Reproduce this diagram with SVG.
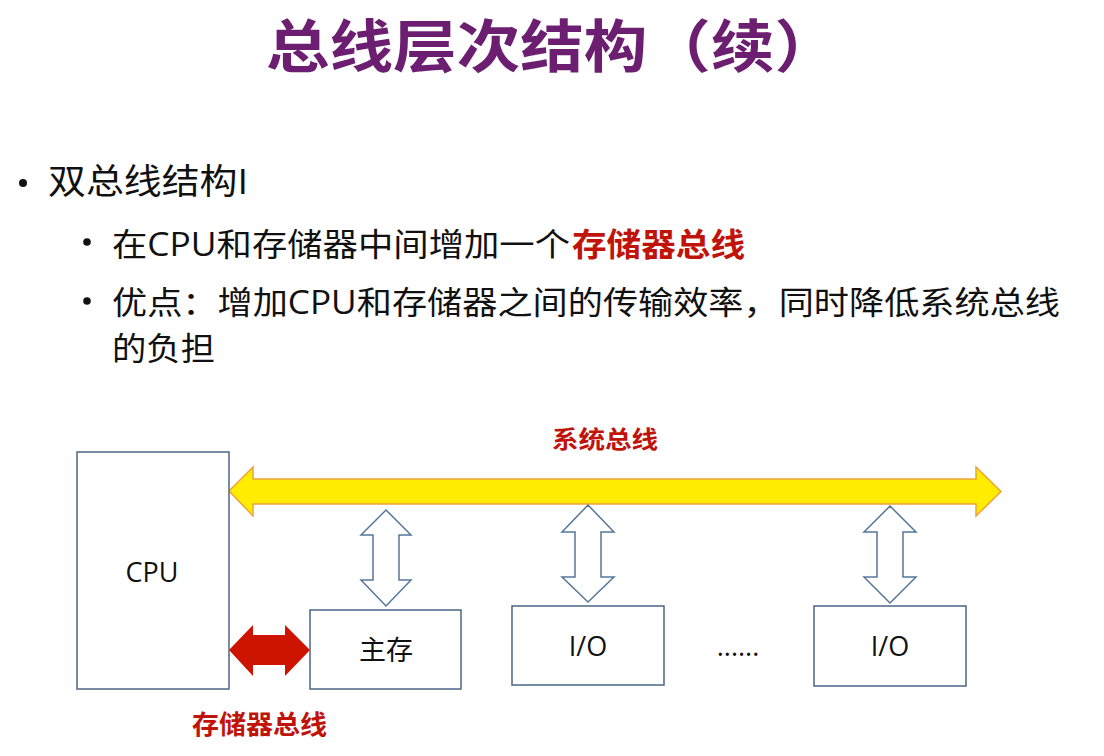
<svg xmlns="http://www.w3.org/2000/svg" width="1104" height="756" viewBox="0 0 1104 756">
  <style>
    .title { font-family: "Noto Sans CJK SC", sans-serif; font-weight: 700; font-size: 57px; fill: #6C1F70; }
    .l1 { font-family: "Open Sans", "Noto Sans CJK SC", sans-serif; font-size: 35px; fill: #111; }
    .l2 { font-family: "Open Sans", "Noto Sans CJK SC", sans-serif; font-size: 32px; fill: #111; }
    .red { font-family: "Noto Sans CJK SC", sans-serif; font-weight: 700; fill: #C0140A; }
    .box { fill: #fff; stroke: #4B6584; stroke-width: 1.5; }
    .lbl { font-family: "Open Sans", "Noto Sans CJK SC", sans-serif; font-size: 27px; fill: #111; text-anchor: middle; }
    .hollow { fill: #fff; stroke: #56779A; stroke-width: 1.5; stroke-linejoin: miter; }
    .bullet { fill: #111; }
  </style>
  <rect width="1104" height="756" fill="#fff"/>

  <text class="title" x="266" y="67" textLength="572" lengthAdjust="spacingAndGlyphs">总线层次结构（续）</text>

  <g id="bullets">
    <circle class="bullet" cx="23" cy="183" r="4"/>
    <text class="l1" x="48" y="194" textLength="200" lengthAdjust="spacingAndGlyphs">双总线结构I</text>
    <circle class="bullet" cx="87" cy="242" r="3.8"/>
    <text class="l2" x="112" y="256" textLength="458" lengthAdjust="spacingAndGlyphs">在CPU和存储器中间增加一个</text>
    <text class="red" x="572" y="256" font-size="32" textLength="173" lengthAdjust="spacingAndGlyphs">存储器总线</text>
    <circle class="bullet" cx="87" cy="301" r="3.8"/>
    <text class="l2" x="112" y="314" textLength="948" lengthAdjust="spacingAndGlyphs">优点：增加CPU和存储器之间的传输效率，同时降低系统总线</text>
    <text class="l2" x="112" y="360" textLength="103" lengthAdjust="spacingAndGlyphs">的负担</text>
  </g>

  <g id="connectors">
    <polygon id="system-bus" points="229,491 253,467 253,479 976,479 976,467 1001,491.5 976,516 976,504 253,504 253,516" fill="#FFEC00" stroke="#EDA33A" stroke-width="1.5"/>
    <polygon id="memory-bus" points="229,650 253,625 253,635 285,635 285,625 310,650 285,676 285,665 253,665 253,676" fill="#CC1400"/>
    <polygon class="hollow" points="386,510 411,535 399,535 399,580 411,580 386,606 361,580 373,580 373,535 361,535"/>
    <polygon class="hollow" points="588,505 614,532 601,532 601,577 614,577 588,602 562,577 575,577 575,532 562,532"/>
    <polygon class="hollow" points="890,506 916,532 903,532 903,577 916,577 890,603 864,577 877,577 877,532 864,532"/>
  </g>

  <text class="red" x="552" y="448" font-size="24" textLength="106" lengthAdjust="spacingAndGlyphs">系统总线</text>
  <text class="red" x="192" y="734" font-size="26" textLength="135" lengthAdjust="spacingAndGlyphs">存储器总线</text>

  <g id="cpu">
    <rect class="box" x="77" y="452" width="152" height="237"/>
    <text class="lbl" x="152" y="582">CPU</text>
  </g>
  <g id="main-memory">
    <rect class="box" x="310" y="610" width="151" height="79"/>
    <text class="lbl" x="386" y="660">主存</text>
  </g>
  <g id="io1">
    <rect class="box" x="512" y="606" width="152" height="79"/>
    <text class="lbl" x="588" y="656">I/O</text>
  </g>
  <g id="ellipsis">
    <text class="lbl" x="738" y="656">......</text>
  </g>
  <g id="io2">
    <rect class="box" x="814" y="606" width="152" height="80"/>
    <text class="lbl" x="890" y="656">I/O</text>
  </g>
</svg>
